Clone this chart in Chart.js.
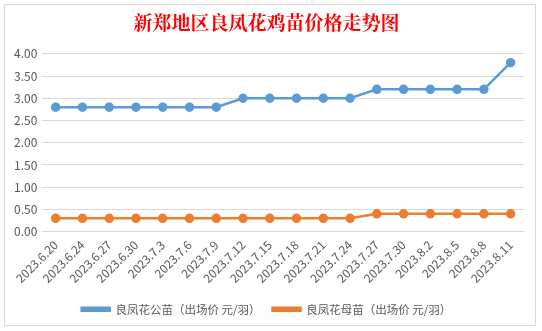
<!DOCTYPE html>
<html>
<head>
<meta charset="utf-8">
<script src="https://cdn.jsdelivr.net/npm/chart.js@4.4.0/dist/chart.umd.min.js"></script>
<style>
  html, body { margin: 0; padding: 0; background: #fff; }
  body { width: 542px; height: 331px; position: relative; overflow: hidden; }
  #box { position: absolute; left: 4px; top: 4px; width: 532px; height: 322px; border: 1px solid #d9d9d9; background: #fff; box-sizing: border-box; }
</style>
</head>
<body>
<div id="box"><canvas id="chart" width="530" height="320"></canvas></div>
<script>
// dates and prices
const labels = ['2023.6.20', '2023.6.24', '2023.6.27', '2023.6.30', '2023.7.3', '2023.7.6', '2023.7.9', '2023.7.12', '2023.7.15',
  '2023.7.18', '2023.7.21', '2023.7.24', '2023.7.27', '2023.7.30', '2023.8.2', '2023.8.5', '2023.8.8', '2023.8.11'];
const roosterPrice = [2.8, 2.8, 2.8, 2.8, 2.8, 2.8, 2.8, 3.0, 3.0, 3.0, 3.0, 3.0, 3.2, 3.2, 3.2, 3.2, 3.2, 3.8];
const henPrice = [0.3, 0.3, 0.3, 0.3, 0.3, 0.3, 0.3, 0.3, 0.3, 0.3, 0.3, 0.3, 0.4, 0.4, 0.4, 0.4, 0.4, 0.4];
const seriesNames = ['良凤花公苗（出场价 元/羽）', '良凤花母苗（出场价 元/羽）'];

const font = "'Noto Sans CJK SC', 'Noto Sans', sans-serif";

new Chart(document.getElementById('chart'), {
  type: 'line',
  data: {
    labels: labels,
    datasets: [
      { label: seriesNames[0], data: roosterPrice, borderColor: '#5b9bd5', backgroundColor: '#5b9bd5',
        borderWidth: 2.5, pointRadius: 3.5, pointHoverRadius: 3.5, tension: 0 },
      { label: seriesNames[1], data: henPrice, borderColor: '#ed7d31', backgroundColor: '#ed7d31',
        borderWidth: 2.5, pointRadius: 3.5, pointHoverRadius: 3.5, tension: 0 }
    ]
  },
  options: {
    responsive: false,
    animation: false,
    layout: { padding: { left: 4, right: 11, top: 0, bottom: 0 } },
    plugins: {
      title: {
        display: true,
        text: '新郑地区良凤花鸡苗价格走势图',
        color: '#ff0000',
        font: { family: "'Noto Serif CJK SC', 'Noto Sans CJK SC', serif", size: 19, weight: 'bold' },
        padding: { top: 6, bottom: 20 }
      },
      legend: {
        position: 'bottom',
        labels: {
          color: '#595959',
          font: { family: font, size: 11.5 },
          boxWidth: 28,
          boxHeight: 3,
          padding: 12
        }
      },
      tooltip: { enabled: false }
    },
    scales: {
      x: {
        offset: true,
        grid: { display: false, drawTicks: false },
        border: { color: '#d9d9d9' },
        ticks: { color: '#595959', font: { family: font, size: 12 }, maxRotation: 45, minRotation: 45, padding: 6, autoSkip: false }
      },
      y: {
        min: 0,
        max: 4,
        grid: { color: '#d9d9d9', drawTicks: false },
        border: { display: false },
        ticks: { stepSize: 0.5, color: '#595959', font: { family: font, size: 12 }, padding: 5,
          callback: v => v.toFixed(2) }
      }
    }
  }
});
</script>
</body>
</html>
